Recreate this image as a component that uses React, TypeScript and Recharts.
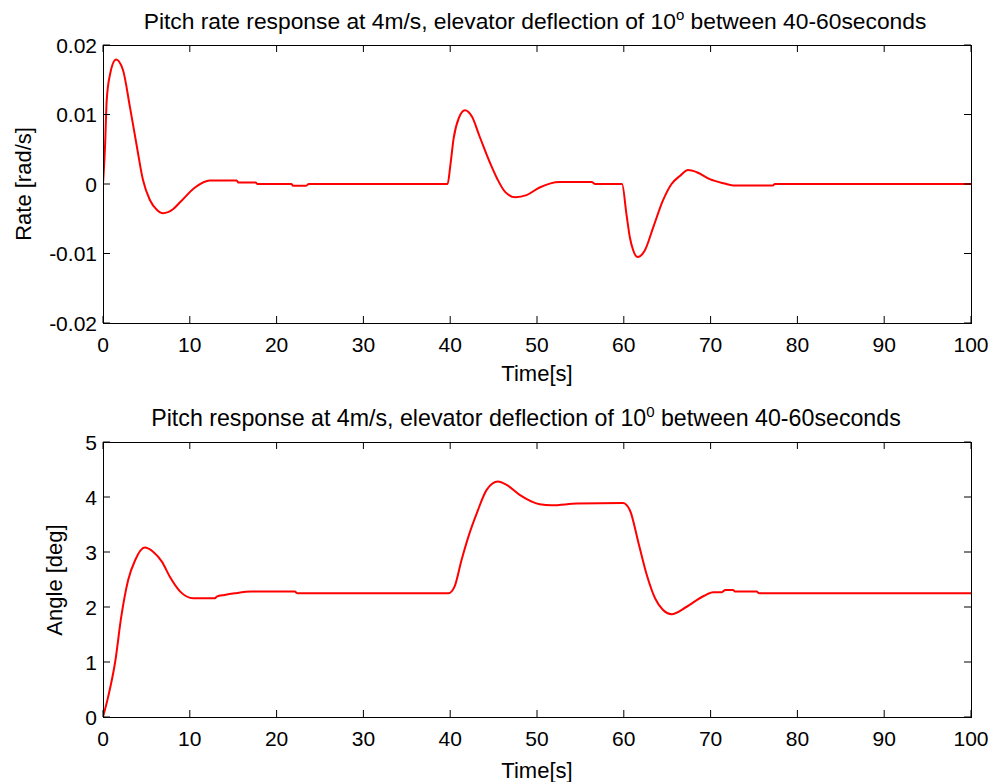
import React from 'react'
import { LineChart, Line, XAxis, YAxis } from 'recharts'

// time axis ticks shared by both plots
const xTicks = [0, 10, 20, 30, 40, 50, 60, 70, 80, 90, 100]

// pitch rate (rad/s)
const rateTicks = [-0.02, -0.01, 0, 0.01, 0.02]
const rateTime = [
  0, 0.23, 0.43, 0.8, 1.5, 2.3, 3.1, 3.9, 4.6, 5.4, 6.2, 6.9, 8.1, 8.9, 10.6, 12.3, 15.4, 15.6,
  17.6, 17.8, 21.7, 21.9, 23.4, 23.7, 39.7, 40, 40.4, 41, 41.7, 42.5, 43.4, 44.6, 45.4, 46.3, 47.5,
  48.8, 50.3, 52.6, 56.3, 56.7, 59.8, 60.3, 60.7, 61.1, 61.6, 62.4, 63.4, 64.5, 65.5, 66.5, 67.4,
  68.4, 69.9, 71.5, 72.6, 77.2, 77.4, 100
]
const rateValues = [
  0, 0.0053, 0.0121, 0.0157, 0.0179, 0.0164, 0.0111, 0.0054, 0.0006, -0.0023, -0.0037, -0.0042,
  -0.0036, -0.0026, -0.0005, 0.0005, 0.0005, 0.0002, 0.0002, 0, 0, -0.00025, -0.00025, 0,
  0, 0.0025, 0.0066, 0.0095, 0.0106, 0.0097, 0.0068, 0.003, 0.0008, -0.0011, -0.0019, -0.0016,
  -0.0005, 0.0003, 0.0003, 0, 0, -0.0043, -0.0077, -0.0096, -0.0105, -0.0096, -0.0062, -0.0024, 0,
  0.0012, 0.002, 0.0017, 0.0007, 0.0001, -0.0002, -0.0002, 0, 0
]

// pitch angle (deg)
const angleTicks = [0, 1, 2, 3, 4, 5]
const angleTime = [
  0, 0.6, 1.4, 2.1, 2.9, 3.7, 4.8, 5.8, 6.8, 7.7, 8.9, 10.4, 12.9, 13.1, 14, 15.2, 17.1, 22.1, 22.4,
  39.8, 40.5, 41.3, 42.1, 43.1, 44.2, 45.5, 46.5, 48, 50.3, 51.7, 54.6, 59.9, 60.7, 61.7, 62.6, 63.6,
  64.5, 65.5, 67.2, 69.2, 70.3, 71.3, 71.7, 72.6, 72.8, 75.3, 75.6, 100
]
const angleValues = [
  0, 0.37, 1.0, 1.82, 2.49, 2.85, 3.08, 3.0, 2.82, 2.55, 2.28, 2.16, 2.16, 2.19, 2.22, 2.25, 2.28,
  2.28, 2.25, 2.25, 2.37, 2.85, 3.28, 3.72, 4.13, 4.28, 4.22, 4.04, 3.87, 3.85, 3.88, 3.89, 3.76,
  3.16, 2.61, 2.16, 1.95, 1.87, 2.0, 2.2, 2.27, 2.27, 2.31, 2.31, 2.28, 2.28, 2.25, 2.25
]

const rateData = rateTime.map((t, i) => ({ t, v: rateValues[i] }))
const angleData = angleTime.map((t, i) => ({ t, v: angleValues[i] }))

const FONT = '"Liberation Sans", Arial, sans-serif'
const PLOT_LEFT = 103
const PLOT_RIGHT = 971
const TICK_LEN = 7

// MATLAB style: ticks point inward, on both sides of the box
function XTick(props: any) {
  const { x, payload, plotTop, plotBottom } = props
  return (
    <g>
      <line x1={x} x2={x} y1={plotBottom} y2={plotBottom - TICK_LEN} stroke="#000" />
      <line x1={x} x2={x} y1={plotTop} y2={plotTop + TICK_LEN} stroke="#000" />
      <text x={x} y={plotBottom + 29} textAnchor="middle" fontSize={21} fontFamily={FONT} fill="#000">
        {payload.value}
      </text>
    </g>
  )
}

function YTick(props: any) {
  const { y, payload } = props
  return (
    <g>
      <line x1={PLOT_LEFT} x2={PLOT_LEFT + TICK_LEN} y1={y} y2={y} stroke="#000" />
      <line x1={PLOT_RIGHT} x2={PLOT_RIGHT - TICK_LEN} y1={y} y2={y} stroke="#000" />
      <text x={PLOT_LEFT - 6} y={y + 7.5} textAnchor="end" fontSize={21} fontFamily={FONT} fill="#000">
        {String(payload.value)}
      </text>
    </g>
  )
}

interface PanelProps {
  data: { t: number; v: number }[]
  yTicks: number[]
  top: number
  height: number
  plotTop: number
  plotBottom: number
}

function Panel({ data, yTicks, top, height, plotTop, plotBottom }: PanelProps) {
  const yDomain = [yTicks[0], yTicks[yTicks.length - 1]]
  return (
    <div style={{ position: 'absolute', left: 0, top, width: 993, height }}>
      <LineChart
        width={993}
        height={height}
        data={data}
        margin={{ top: plotTop, right: 993 - PLOT_RIGHT, bottom: height - plotBottom - 30, left: PLOT_LEFT - 60 }}
      >
        <XAxis
          dataKey="t"
          type="number"
          domain={[0, 100]}
          ticks={xTicks}
          allowDataOverflow
          height={30}
          axisLine={false}
          tickLine={false}
          tick={(p: any) => <XTick {...p} plotTop={plotTop} plotBottom={plotBottom} />}
        />
        <YAxis
          type="number"
          domain={yDomain}
          ticks={yTicks}
          allowDataOverflow
          width={60}
          axisLine={false}
          tickLine={false}
          tick={(p: any) => <YTick {...p} />}
        />
        <Line
          type="monotone"
          dataKey="v"
          stroke="#ff0000"
          strokeWidth={2}
          dot={false}
          isAnimationActive={false}
        />
      </LineChart>
      {/* axes box */}
      <div
        style={{
          position: 'absolute',
          left: PLOT_LEFT - 0.5,
          top: plotTop - 0.5,
          width: PLOT_RIGHT - PLOT_LEFT + 1,
          height: plotBottom - plotTop + 1,
          border: '1px solid #000',
          boxSizing: 'border-box',
          pointerEvents: 'none'
        }}
      />
    </div>
  )
}

export default function App() {
  return (
    <div
      style={{
        position: 'absolute',
        left: 0,
        top: 0,
        width: 993,
        height: 782,
        background: '#fff',
        overflow: 'hidden'
      }}
    >
      <Panel data={rateData} yTicks={rateTicks} top={0} height={390} plotTop={45} plotBottom={323} />
      <Panel data={angleData} yTicks={angleTicks} top={390} height={392} plotTop={52} plotBottom={327} />

      {/* titles and axis labels */}
      <svg
        width={993}
        height={782}
        style={{ position: 'absolute', left: 0, top: 0, pointerEvents: 'none' }}
        fontFamily={FONT}
        fill="#000"
      >
        <text x={535} y={29} fontSize={22.8} textAnchor="middle">
          Pitch rate response at 4m/s, elevator deflection of 10
          <tspan dy={-9} fontSize={15}>o</tspan>
          <tspan dy={9}> between 40-60seconds</tspan>
        </text>
        <text x={526} y={426} fontSize={23.2} textAnchor="middle">
          Pitch response at 4m/s, elevator deflection of 10
          <tspan dy={-9} fontSize={15}>0</tspan>
          <tspan dy={9}> between 40-60seconds</tspan>
        </text>
        <text x={537} y={381} fontSize={22} textAnchor="middle">Time[s]</text>
        <text x={537} y={778} fontSize={22} textAnchor="middle">Time[s]</text>
        <text x={31} y={184} fontSize={22} textAnchor="middle" transform="rotate(-90 31 184)">
          Rate [rad/s]
        </text>
        <text x={62} y={580} fontSize={22} textAnchor="middle" transform="rotate(-90 62 580)">
          Angle [deg]
        </text>
      </svg>
    </div>
  )
}
